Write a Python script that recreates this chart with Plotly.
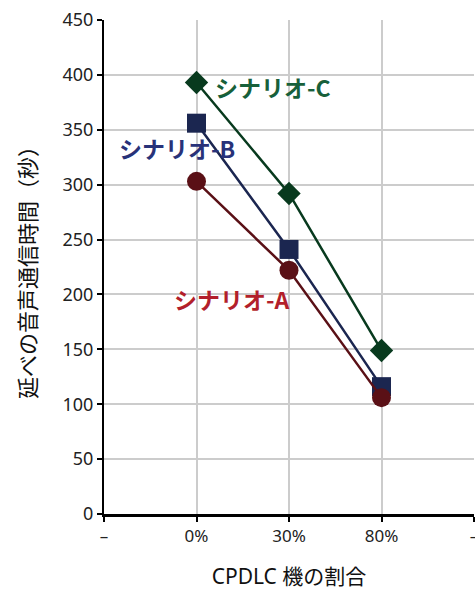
import plotly.graph_objects as go

# Share of CPDLC-equipped aircraft (positions 1..3 on the x axis)
categories = ["0%", "30%", "80%"]
tick_labels = ["–", "0%", "30%", "80%", "–"]

# Total voice communication time (seconds) per scenario
scenario_a = [303, 222, 106]
scenario_b = [356, 241, 116]
scenario_c = [393, 292, 149]

series_names = ["シナリオ-A", "シナリオ-B", "シナリオ-C"]

FONT = "Noto Sans, Noto Sans CJK JP"
CJK = "Noto Sans CJK JP"
x_pos = [1, 2, 3]

fig = go.Figure()

# Draw order: C, B, A (A on top)
styles = [
    (series_names[2], scenario_c, "#083a1e", "diamond", 18),
    (series_names[1], scenario_b, "#1b2650", "square", 19),
    (series_names[0], scenario_a, "#5a1016", "circle", 19),
]
for name, vals, color, sym, size in styles:
    fig.add_trace(go.Scatter(
        x=x_pos, y=vals, name=name, mode="lines+markers",
        line=dict(color=color, width=2.5),
        marker=dict(symbol=sym, size=size, color=color, line=dict(width=0)),
        showlegend=False,
        customdata=categories,
    ))

# Series labels placed beside their lines
labels = [
    (series_names[2], 1.18, 389, "#17603a"),
    (series_names[1], 0.14, 333, "#283279"),
    (series_names[0], 0.74, 196, "#b31f2b"),
]
for text, lx, ly, color in labels:
    fig.add_annotation(
        x=lx, y=ly, text=f"<b>{text}</b>", showarrow=False,
        xanchor="left", yanchor="middle",
        font=dict(family=CJK, size=23, color=color),
    )

fig.update_xaxes(
    range=[0, 4], tickvals=[0, 1, 2, 3, 4], ticktext=tick_labels,
    ticklabeloverflow="allow", automargin=False,
    showgrid=True, gridcolor="#cccccc", gridwidth=1.5,
    showline=True, linecolor="black", linewidth=3,
    ticks="outside", ticklen=5, tickwidth=1.5, tickcolor="black",
    tickfont=dict(family=FONT, size=17, color="#222222"),
    title=dict(text="CPDLC 機の割合", standoff=24,
               font=dict(family=FONT, size=21, color="#111111")),
    zeroline=False,
)
fig.update_yaxes(
    range=[0, 450], dtick=50, automargin=False,
    showgrid=True, gridcolor="#cccccc", gridwidth=1.5,
    showline=True, linecolor="black", linewidth=2,
    ticks="outside", ticklen=5, tickwidth=1.5, tickcolor="black",
    tickfont=dict(family=FONT, size=18, color="#222222"),
    title=dict(text="延べの音声通信時間（秒）", standoff=20,
               font=dict(family=CJK, size=22, color="#111111")),
    zeroline=False,
)

fig.update_layout(
    width=475, height=590,
    margin=dict(l=104, r=1, t=20, b=76),
    paper_bgcolor="white", plot_bgcolor="white",
)

fig.write_html("out.html")
